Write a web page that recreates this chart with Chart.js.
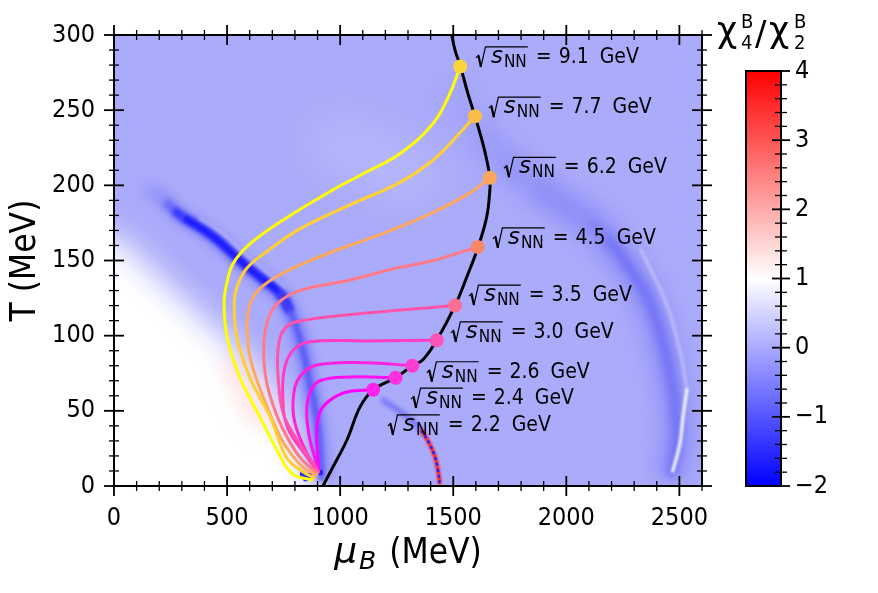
<!DOCTYPE html>
<html>
<head>
<meta charset="utf-8">
<script src="https://cdn.jsdelivr.net/npm/chart.js@4.4.1/dist/chart.umd.min.js"></script>
<style>
html, body { margin: 0; padding: 0; background: #fff; }
#wrap { position: relative; width: 878px; height: 593px; }
#wrap canvas { position: absolute; left: 0; top: 0; }
</style>
</head>
<body>
<div id="wrap">
  <canvas id="main" width="878" height="593"></canvas>
  <canvas id="cbar" width="878" height="593"></canvas>
</div>
<script>
const FONT = '"DejaVu Sans Condensed", "DejaVu Sans", sans-serif';

// axis ticks
const xTicks = [0, 500, 1000, 1500, 2000, 2500];
const yTicks = [0, 50, 100, 150, 200, 250, 300];
const cbTicks = [-2, -1, 0, 1, 2, 3, 4];

// collision energies (GeV)
const energies = ['9.1', '7.7', '6.2', '4.5', '3.5', '3.0', '2.6', '2.4', '2.2'];
const lineColors = ['#ffff00', '#ffd030', '#ffa860', '#ff7a88', '#ff54ab', '#ff3cc3', '#ff22dd', '#ff10ef', '#ff00ff'];
const dotColors = ['#f9d43a', '#fbbd48', '#fca75c', '#fa8668', '#fa6e92', '#fb55b8', '#fc3fd2', '#fc30df', '#fd22ec'];

// trajectories (mu_B, T) in MeV
const mu91 = [880, 800, 760, 734, 645, 557, 500, 487, 499, 527, 601, 748, 968, 1118, 1264, 1410, 1485, 1531];
const T91 = [4, 7, 13, 20, 46, 72, 99, 122, 135, 148, 161, 177, 197, 209, 221, 241, 261, 279];
const mu77 = [890, 830, 763, 690, 601, 543, 532, 545, 588, 676, 822, 1043, 1264, 1412, 1530, 1596];
const T77 = [5, 10, 19, 46, 72, 99, 122, 133, 145, 156, 171, 187, 202, 217, 235, 246];
const mu62 = [900, 840, 780, 734, 660, 601, 588, 600, 630, 705, 822, 968, 1190, 1412, 1574, 1662];
const T62 = [7, 12, 22, 33, 59, 86, 108, 120, 129, 138, 147, 156, 168, 182, 195, 205];
const mu45 = [905, 822, 740, 690, 668, 662, 676, 720, 822, 1043, 1250, 1412, 1608];
const T45 = [8, 19, 40, 60, 75, 92, 108, 121, 130, 137, 145, 150, 159];
const mu35 = [905, 881, 808, 749, 727, 727, 763, 852, 1118, 1508];
const T35 = [9, 15, 31, 48, 70, 93, 106, 110.5, 115, 120];
const mu30 = [905, 852, 766, 746, 756, 793, 866, 1118, 1427];
const T30 = [9, 19.5, 39.5, 61.7, 79.4, 90.5, 96, 96.5, 97];
const mu26 = [905, 852, 800, 793, 822, 896, 1118, 1319];
const T26 = [9, 22, 42, 59, 72.7, 80.5, 82, 80];
const mu24 = [905, 896, 866, 852, 866, 910, 1043, 1245];
const T24 = [9, 15, 31, 49, 62, 70, 72.5, 72];
const mu22 = [905, 902, 896, 910, 955, 1030, 1146];
const T22 = [9, 19, 35, 49, 57, 62.5, 64];

// freeze-out points and line
const dotMu = [1531, 1596, 1662, 1608, 1508, 1427, 1319, 1245, 1146];
const dotT = [279, 246, 205, 159, 120, 97, 80, 72, 64];
const freezeMu = [924, 968, 1030, 1088, 1146, 1245, 1319, 1366, 1427, 1508, 1560, 1610, 1648, 1662, 1662, 1648, 1627, 1596, 1565, 1532, 1508, 1493];
const freezeT = [0, 12.6, 30.6, 52.6, 64, 72, 80, 84, 97, 120, 139, 159, 179, 197, 205, 217, 230, 246, 261, 279, 290, 300];

// label anchors
const labelMu = [1596, 1653, 1720, 1671, 1565, 1485, 1379, 1309, 1207];
const labelT = [285.4, 252, 212, 165, 127, 102.5, 76, 58.5, 40.6];

// chi4/chi2 map features
const baseMu = [-100, 2700];
const baseT = [320, 320];
const whiteMu = [-400, 0, 159, 300, 450, 650, 780, 860, 950];
const whiteT = [180, 165, 145, 125, 104, 75, 40, 10, -20];
const patchMu = [980, 1150, 1320];
const patchT = [228, 218, 205];
const pinkMu = [530, 580, 640];
const pinkT = [80, 64, 46];
const ridgeMu = [120, 170, 220, 270, 305, 380, 455, 557, 645, 734, 791, 836, 866, 896, 911, 918];
const ridgeT = [199, 196, 191, 183, 179, 172, 164, 150, 139, 128, 112, 90, 68, 46, 24, 5];
const coreMu = [225, 262, 305, 380, 455, 557, 645, 734, 780];
const coreT = [189, 184, 179, 172, 164, 150, 139, 128, 116];
const lowRidgeMu = [734, 791, 836, 866, 896, 911, 918];
const lowRidgeT = [128, 112, 90, 68, 46, 24, 5];
const sheenMu = [380, 478, 580, 668, 757];
const sheenT = [178, 168, 154, 143, 132];
const arcMu = [1480, 1600, 1720, 1850, 1974, 2104, 2250, 2356, 2427, 2471, 2489, 2478, 2455];
const arcT = [268, 240, 218, 202, 188, 176, 151, 126, 95, 64, 37, 19, 5];
const arcCoreMu = [2104, 2180, 2250, 2356, 2427, 2471, 2489, 2478, 2460];
const arcCoreT = [176, 165, 151, 126, 95, 64, 37, 19, 6];
const streakMu = [2330, 2445, 2505, 2533];
const streakT = [157, 120, 88, 64];
const streakLowMu = [2533, 2516, 2502, 2471];
const streakLowT = [64, 46, 28, 10];
const smallBlueMu = [1190, 1260, 1320, 1370];
const smallBlueT = [57, 50, 43, 35];
const smallRedMu = [1360, 1395, 1418, 1432, 1440];
const smallRedT = [37, 28, 20, 11, 2];
const blobMu = [835, 848, 862, 912];
const blobT = [8, 5, 7, 9];

const pts = (xs, ys) => xs.map((v, i) => ({ x: v, y: ys[i] }));

function heat(xs, ys, color, width, blur, order, extra) {
    return Object.assign({
        data: pts(xs, ys),
        borderColor: color,
        borderWidth: width,
        blur: blur,
        order: order,
        pointRadius: 0,
        tension: 0.4,
        fill: false,
        clip: 0,
        borderCapStyle: 'round',
        borderJoinStyle: 'round'
    }, extra || {});
}

// fade the first segments of a band
const fadeIn = alphas => ({
    borderCapStyle: 'butt',
    segment: { borderColor: c => alphas[c.p0DataIndex] }
});

const trajMu = [mu91, mu77, mu62, mu45, mu35, mu30, mu26, mu24, mu22];
const trajT = [T91, T77, T62, T45, T35, T30, T26, T24, T22];

const datasets = [
    heat(baseMu, baseT, 'rgba(0,0,0,0)', 1, 0, 40, { fill: { value: -50 }, backgroundColor: 'rgb(170,171,250)', tension: 0 }),
    heat(patchMu, patchT, 'rgba(200,200,253,0.45)', 55, 22, 39),
    heat(whiteMu, whiteT, 'rgba(0,0,0,0)', 1, 16, 38, { fill: { value: -80 }, backgroundColor: '#ffffff' }),
    heat(pinkMu, pinkT, 'rgba(255,190,190,0.35)', 25, 10, 37),
    heat(ridgeMu, ridgeT, 'rgba(95,95,248,0.55)', 16, 5, 36,
        fadeIn(['rgba(110,110,250,0.15)', 'rgba(100,100,250,0.3)', 'rgba(95,95,248,0.45)'])),
    heat(coreMu, coreT, '#1a1aff', 9, 2.2, 35,
        fadeIn(['rgba(40,40,255,0.3)', 'rgba(30,30,255,0.75)'])),
    heat(lowRidgeMu, lowRidgeT, 'rgba(80,80,245,0.8)', 6, 2, 34),
    heat(sheenMu, sheenT, 'rgba(215,215,255,0.45)', 3, 1.5, 33),
    heat(arcMu, arcT, 'rgba(118,118,245,0.55)', 30, 10, 32,
        fadeIn(['rgba(140,140,247,0.2)', 'rgba(130,130,246,0.35)', 'rgba(125,125,246,0.45)'])),
    heat(arcCoreMu, arcCoreT, 'rgba(100,100,245,0.7)', 10, 4, 31,
        fadeIn(['rgba(110,110,245,0.3)'])),
    heat(streakMu, streakT, 'rgba(255,255,255,0.35)', 3, 1.5, 30),
    heat(streakLowMu, streakLowT, 'rgba(255,255,255,0.85)', 3.5, 1.2, 30),
    heat(smallBlueMu, smallBlueT, 'rgba(80,80,245,0.6)', 5, 2, 29),
    heat(smallRedMu, smallRedT, '#ff2020', 4, 0.8, 28),
    heat(smallRedMu, smallRedT, '#2020ff', 2.5, 0, 27, { borderDash: [3, 3], borderCapStyle: 'butt' }),
    {
        data: pts(blobMu, blobT), showLine: false, order: 26, clip: 0,
        pointRadius: 3, pointBackgroundColor: '#2a2aff', pointBorderWidth: 0
    }
];

trajMu.forEach((xs, i) => {
    datasets.push(heat(xs, trajT[i], lineColors[i], 3, 0, 10 + i, { borderCapStyle: 'butt' }));
});

datasets.push(heat(freezeMu, freezeT, '#000000', 3, 0, 2, { borderCapStyle: 'butt' }));
datasets.push({
    data: pts(dotMu, dotT), showLine: false, order: 1,
    pointRadius: 7, pointBackgroundColor: dotColors, pointBorderWidth: 0
});

// blur the map features (fills included) by setting the filter between dataset draws
function applyBlur(ctx, b) { ctx.filter = b ? 'blur(' + b + 'px)' : 'none'; }
const heatBlur = {
    id: 'heatBlur',
    beforeDatasetsDraw(chart) {
        const seq = chart.getSortedVisibleDatasetMetas().slice().reverse();
        chart.$blurSeq = seq.map(m => chart.data.datasets[m.index].blur || 0);
        chart.$blurPos = 0;
        applyBlur(chart.ctx, chart.$blurSeq[0]);
    },
    afterDatasetDraw(chart) {
        chart.$blurPos++;
        applyBlur(chart.ctx, chart.$blurSeq[chart.$blurPos] || 0);
    },
    afterDatasetsDraw(chart) { chart.ctx.filter = 'none'; }
};

function drawSqrtLabel(ctx, x, y, txt) {
    ctx.save();
    ctx.fillStyle = '#000';
    ctx.strokeStyle = '#000';
    ctx.textAlign = 'left';
    ctx.textBaseline = 'alphabetic';
    ctx.font = 'italic 23px "DejaVu Sans"';
    const sx = x + 16;
    ctx.fillText('s', sx, y + 6);
    const nx = sx + ctx.measureText('s').width + 1;
    ctx.font = '17px ' + FONT;
    ctx.fillText('NN', nx, y + 10);
    const barEnd = nx + ctx.measureText('NN').width + 1;
    ctx.lineWidth = 1.2;
    ctx.beginPath(); ctx.moveTo(x + 1, y + 1); ctx.lineTo(x + 4, y - 2); ctx.stroke();
    ctx.lineWidth = 2.2;
    ctx.beginPath(); ctx.moveTo(x + 3.5, y - 1.5); ctx.lineTo(x + 6, y + 10); ctx.stroke();
    ctx.lineWidth = 1.2;
    ctx.beginPath(); ctx.moveTo(x + 6, y + 10); ctx.lineTo(x + 10.5, y - 10); ctx.lineTo(barEnd, y - 10); ctx.stroke();
    ctx.font = '21px ' + FONT;
    const ex = barEnd + 8;
    ctx.fillText('=', ex, y + 6);
    const numX = ex + ctx.measureText('=').width + 7;
    ctx.fillText(txt, numX, y + 6);
    ctx.fillText('GeV', numX + ctx.measureText(txt).width + 11, y + 6);
    ctx.restore();
}

const annotate = {
    id: 'annotate',
    afterDatasetsDraw(chart) {
        const { ctx, scales: { x, y } } = chart;
        energies.forEach((e, i) => {
            drawSqrtLabel(ctx, x.getPixelForValue(labelMu[i]), y.getPixelForValue(labelT[i]), e);
        });
    },
    afterDraw(chart) {
        const { ctx, chartArea: a } = chart;
        ctx.save();
        ctx.fillStyle = '#000';
        // T (MeV)
        ctx.translate(26, (a.top + a.bottom) / 2);
        ctx.rotate(-Math.PI / 2);
        ctx.textAlign = 'center';
        ctx.textBaseline = 'middle';
        ctx.font = '35px ' + FONT;
        ctx.fillText('T (MeV)', 0, 0);
        ctx.restore();

        // mu_B (MeV)
        ctx.save();
        ctx.fillStyle = '#000';
        ctx.textAlign = 'left';
        ctx.textBaseline = 'alphabetic';
        ctx.font = 'italic 36px "DejaVu Sans"';
        const wMu = ctx.measureText('μ').width;
        ctx.font = 'italic 25px "DejaVu Sans"';
        const wB = ctx.measureText('B').width;
        ctx.font = '35px ' + FONT;
        const wRest = ctx.measureText('(MeV)').width;
        const total = wMu + 2 + wB + 13 + wRest;
        let cx = (a.left + a.right) / 2 - total / 2;
        ctx.font = 'italic 36px "DejaVu Sans"';
        ctx.fillText('μ', cx, 563);
        cx += wMu + 2;
        ctx.font = 'italic 25px "DejaVu Sans"';
        ctx.fillText('B', cx, 569);
        cx += wB + 13;
        ctx.font = '35px ' + FONT;
        ctx.fillText('(MeV)', cx, 563);
        ctx.restore();
    }
};

function tickLine(ctx, x1, y1, x2, y2) {
    ctx.beginPath(); ctx.moveTo(x1, y1); ctx.lineTo(x2, y2); ctx.stroke();
}

const frame = {
    id: 'frame',
    afterDraw(chart) {
        const { ctx, chartArea: a, scales: { x, y } } = chart;
        ctx.save();
        ctx.strokeStyle = '#000';
        for (let v = x.min; v <= x.max; v += 100) {
            const px = x.getPixelForValue(v);
            const major = v % 500 === 0;
            const len = major ? 10 : 5;
            ctx.lineWidth = major ? 1.8 : 1.3;
            tickLine(ctx, px, a.bottom - len, px, a.bottom + len);
            tickLine(ctx, px, a.top - len, px, a.top + len);
        }
        for (let v = y.min; v <= y.max; v += 10) {
            const py = y.getPixelForValue(v);
            const major = v % 50 === 0;
            const len = major ? 10 : 5;
            ctx.lineWidth = major ? 1.8 : 1.3;
            tickLine(ctx, a.left - len, py, a.left + len, py);
            tickLine(ctx, a.right - len, py, a.right + len, py);
        }
        ctx.lineWidth = 2;
        ctx.strokeRect(a.left, a.top, a.right - a.left, a.bottom - a.top);
        ctx.restore();
    }
};

const tickFont = { family: FONT, size: 25 };

new Chart(document.getElementById('main'), {
    type: 'line',
    data: { datasets: datasets },
    options: {
        responsive: false,
        animation: false,
        events: [],
        layout: { padding: { top: 35, right: 176, left: 0, bottom: 0 } },
        scales: {
            x: {
                type: 'linear', min: 0, max: 2600,
                afterBuildTicks: s => { s.ticks = xTicks.map(v => ({ value: v })); },
                afterFit: s => { s.height = 107; },
                grid: { display: false, drawTicks: false },
                border: { display: false },
                ticks: { padding: 17, color: '#000', font: tickFont, maxRotation: 0, autoSkip: false, callback: v => String(v) }
            },
            y: {
                type: 'linear', min: 0, max: 300,
                afterBuildTicks: s => { s.ticks = yTicks.map(v => ({ value: v })); },
                afterFit: s => { s.width = 114; },
                grid: { display: false, drawTicks: false },
                border: { display: false },
                ticks: { padding: 19, color: '#000', font: tickFont, autoSkip: false, callback: v => String(v) }
            }
        },
        plugins: { legend: { display: false }, tooltip: { enabled: false } }
    },
    plugins: [heatBlur, annotate, frame]
});

// colour bar
const cbFrame = {
    id: 'cbFrame',
    afterDraw(chart) {
        const { ctx, chartArea: a, scales: { y } } = chart;
        ctx.save();
        ctx.strokeStyle = '#000';
        for (let k = 0; k <= 30; k++) {
            const v = y.min + k * 0.2;
            const py = y.getPixelForValue(v);
            const major = k % 5 === 0;
            const len = major ? 9 : 6;
            ctx.lineWidth = major ? 1.8 : 1.3;
            tickLine(ctx, a.right - len, py, a.right + len, py);
        }
        ctx.lineWidth = 2;
        ctx.strokeRect(a.left, a.top, a.right - a.left, a.bottom - a.top);

        // chi_4^B / chi_2^B
        ctx.fillStyle = '#000';
        ctx.textAlign = 'left';
        ctx.textBaseline = 'alphabetic';
        const x0 = a.left - 29;
        ctx.font = '35px "DejaVu Sans"';
        ctx.fillText('χ', x0, 42);
        ctx.font = '20px ' + FONT;
        ctx.fillText('B', x0 + 24, 28);
        ctx.fillText('4', x0 + 24, 49);
        ctx.font = '34px "DejaVu Sans"';
        ctx.fillText('/', x0 + 38, 45);
        ctx.font = '35px "DejaVu Sans"';
        ctx.fillText('χ', x0 + 52, 42);
        ctx.font = '20px ' + FONT;
        ctx.fillText('B', x0 + 77, 28);
        ctx.fillText('2', x0 + 77, 49);
        ctx.restore();
    }
};

new Chart(document.getElementById('cbar'), {
    type: 'bar',
    data: {
        labels: ['chi'],
        datasets: [{
            data: [[cbTicks[0], cbTicks[cbTicks.length - 1]]],
            borderWidth: 0,
            barPercentage: 1,
            categoryPercentage: 1,
            backgroundColor: context => {
                const chart = context.chart;
                if (!chart.chartArea) return 'rgba(0,0,0,0)';
                const sc = chart.scales.y;
                const g = chart.ctx.createLinearGradient(0, sc.getPixelForValue(-2), 0, sc.getPixelForValue(4));
                g.addColorStop(0, 'rgb(0,0,255)');
                g.addColorStop(0.5, 'rgb(255,255,255)');
                g.addColorStop(1, 'rgb(255,0,0)');
                return g;
            }
        }]
    },
    options: {
        responsive: false,
        animation: false,
        events: [],
        layout: { padding: { left: 746, right: 37, top: 71, bottom: 107 } },
        scales: {
            x: { display: false },
            y: {
                position: 'right', min: -2, max: 4,
                afterBuildTicks: s => { s.ticks = cbTicks.map(v => ({ value: v })); },
                afterFit: s => { s.width = 60; },
                grid: { display: false, drawTicks: false },
                border: { display: false },
                ticks: { padding: 14, color: '#000', font: tickFont, autoSkip: false, callback: v => String(v).replace('-', '\u2212') }
            }
        },
        plugins: { legend: { display: false }, tooltip: { enabled: false } }
    },
    plugins: [cbFrame]
});
</script>
</body>
</html>
